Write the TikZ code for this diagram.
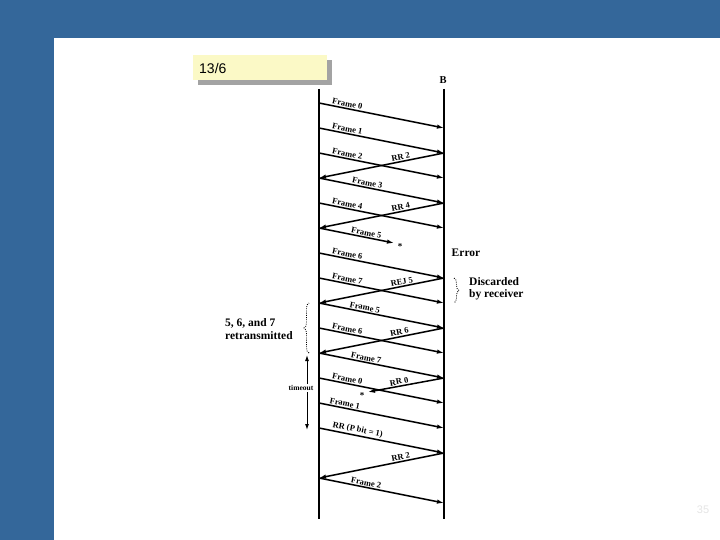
\documentclass[tikz,border=0pt]{standalone}
\usepackage{fontspec}
\setmainfont{Liberation Serif}
\newfontfamily\slidefont{Liberation Sans}
\usetikzlibrary{arrows.meta,decorations.pathreplacing}
\definecolor{slideblue}{HTML}{34679A}
\definecolor{notebg}   {HTML}{FBF9C6}
\definecolor{noteshade}{HTML}{A3A3A3}
\definecolor{pagegray} {HTML}{E4E4E4}

\begin{document}
\begin{tikzpicture}[x=1pt,y=-1pt,
    station/.style={line width=2.4pt},
    msg/.style={line width=1.5pt,-{Latex[length=7pt,width=4.5pt]}},
    lbl/.style={font=\fontsize{8.5}{9}\selectfont\bfseries,inner sep=1pt,sloped,above},
    note/.style={font=\fontsize{11.5}{12.5}\selectfont\bfseries,align=left,inner sep=0pt},
    lost/.style={font=\fontsize{9}{9}\selectfont\bfseries,inner sep=0pt},
    dotbrace/.style={line width=0.8pt,dash pattern=on 0.9pt off 1.3pt,decorate,decoration={brace,amplitude=5pt}}]
  % slide frame
  \useasboundingbox (0,0) rectangle (720,540);
  \fill[slideblue] (0,0) rectangle (720,38);
  \fill[slideblue] (0,0) rectangle (54,540);
  \fill[noteshade] (198,60) rectangle (332,85);
  \node[draw=none,fill=notebg,minimum width=134pt,minimum height=25pt,inner sep=0pt] (tag) at (260,67.5) {};
  \node[anchor=west,font=\slidefont\fontsize{14}{14}\selectfont,inner sep=0pt] (tagtext) at (199,68) {13/6};
  \node[font=\slidefont\fontsize{11}{11}\selectfont,text=pagegray] (pnum) at (703,510) {35};

  % stations
  \coordinate (Atop) at (319,89);
  \coordinate (Abot) at (319,519);
  \coordinate (Btop) at (444,89);
  \coordinate (Bbot) at (444,519);
  \draw[station] (Atop) -- (Abot);
  \draw[station] (Btop) -- (Bbot);
  \node[font=\fontsize{10.5}{10.5}\selectfont\bfseries] (B) at (443,80) {B};
  \foreach \k in {0,...,16}{
    \coordinate (L\k) at (319,103+25*\k);
    \coordinate (R\k) at (444,103+25*\k);
  }
  \coordinate (lost5) at (394,243);
  \coordinate (lost0) at (368,392);

  % frames and acknowledgements
  \draw[msg] (L0) -- (R1) node[lbl,pos=0.22] {Frame 0};
  \draw[msg] (L1) -- (R2) node[lbl,pos=0.22] {Frame 1};
  \draw[msg] (L2) -- (R3) node[lbl,pos=0.22] {Frame 2};
  \draw[msg] (R2) -- (L3) node[lbl,pos=0.34] {RR 2};
  \draw[msg] (L3) -- (R4) node[lbl,pos=0.38] {Frame 3};
  \draw[msg] (L4) -- (R5) node[lbl,pos=0.22] {Frame 4};
  \draw[msg] (R4) -- (L5) node[lbl,pos=0.34] {RR 4};
  \draw[msg] (L5) -- (lost5) node[lbl,pos=0.62] {Frame 5};
  \node[lost] (star5) at (400,247) {*};
  \draw[msg] (L6) -- (R7) node[lbl,pos=0.22] {Frame 6};
  \draw[msg] (L7) -- (R8) node[lbl,pos=0.22] {Frame 7};
  \draw[msg] (R7) -- (L8) node[lbl,pos=0.33] {REJ 5};
  \draw[msg] (L8) -- (R9) node[lbl,pos=0.36] {Frame 5};
  \draw[msg] (L9) -- (R10) node[lbl,pos=0.22] {Frame 6};
  \draw[msg] (R9) -- (L10) node[lbl,pos=0.35] {RR 6};
  \draw[msg] (L10) -- (R11) node[lbl,pos=0.37] {Frame 7};
  \draw[msg] (L11) -- (R12) node[lbl,pos=0.22] {Frame 0};
  \draw[msg] (R11) -- (lost0) node[lbl,pos=0.58] {RR 0};
  \node[lost] (star0) at (362,396) {*};
  \draw[msg] (L12) -- (R13) node[lbl,pos=0.2] {Frame 1};
  \draw[msg] (L13) -- (R14) node[lbl,pos=0.3] {RR (P bit = 1)};
  \draw[msg] (R14) -- (L15) node[lbl,pos=0.34] {RR 2};
  \draw[msg] (L15) -- (R16) node[lbl,pos=0.37] {Frame 2};

  % notes
  \node[note] (err) at (466,253) {Error};
  \draw[dotbrace] (R7) ++(10,0) coordinate (dtop) -- ++(0,25) coordinate (dbot);
  \node[note,anchor=west] (disc) at (469,289) {Discarded\\by receiver};
  \coordinate (rtop) at (309,303);
  \coordinate (rbot) at (309,353);
  \draw[dotbrace] (rbot) -- (rtop);
  \node[note,anchor=west] (retx) at (225,329) {5, 6, and 7\\retransmitted};
  \coordinate (tup) at (307,355);
  \coordinate (tdown) at (307,430);
  \draw[line width=1pt,{Latex[length=6pt,width=4pt]}-{Latex[length=6pt,width=4pt]}] (tup) -- (tdown);
  \node[fill=white,inner sep=1pt,font=\fontsize{7.5}{8}\selectfont\bfseries] (tout) at (301,388) {timeout};
\end{tikzpicture}
\end{document}
